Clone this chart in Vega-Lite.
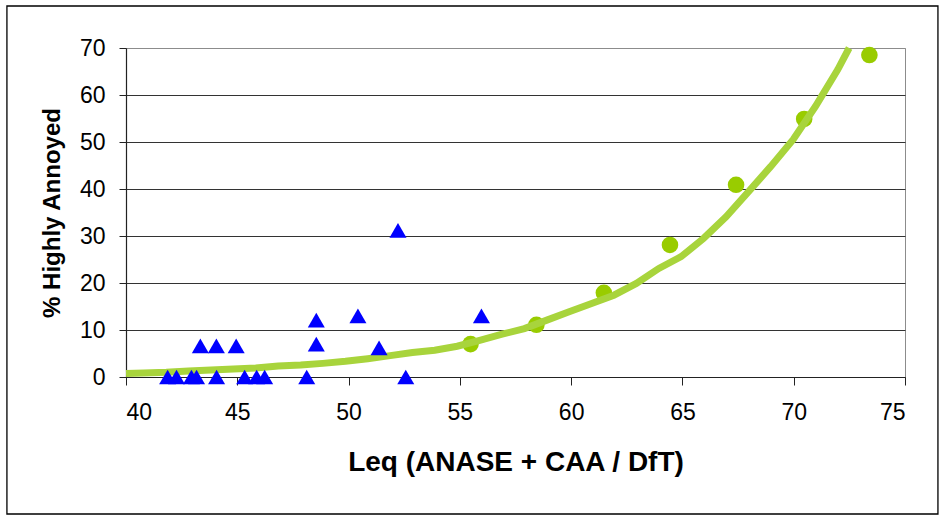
{
  "$schema": "https://vega.github.io/schema/vega-lite/v6.json",
  "autosize": "none",
  "width": 779,
  "height": 329,
  "padding": {"left": 126, "top": 48, "right": 36, "bottom": 139},
  "background": "white",
  "config": {
    "view": {"stroke": "#8c8c8c", "strokeWidth": 1},
    "font": "Liberation Sans",
    "axis": {"labelFont": "Liberation Sans", "titleFont": "Liberation Sans", "labelColor": "#000", "titleColor": "#000", "domainColor": "#222", "tickColor": "#222"}
  },
  "datasets": {
    "anase": [
      {"leq": 41.87, "ha": 0}, {"leq": 42.27, "ha": 0}, {"leq": 42.94, "ha": 0}, {"leq": 43.17, "ha": 0},
      {"leq": 44.07, "ha": 0}, {"leq": 45.33, "ha": 0}, {"leq": 45.87, "ha": 0}, {"leq": 46.23, "ha": 0},
      {"leq": 48.12, "ha": 0}, {"leq": 52.57, "ha": 0},
      {"leq": 43.34, "ha": 6.6}, {"leq": 44.06, "ha": 6.6}, {"leq": 44.95, "ha": 6.6},
      {"leq": 48.55, "ha": 12.1}, {"leq": 48.55, "ha": 7.0}, {"leq": 50.42, "ha": 13.0},
      {"leq": 51.37, "ha": 6.2}, {"leq": 52.22, "ha": 31.2}, {"leq": 55.97, "ha": 13.0}
    ],
    "caa": [
      {"leq": 55.48, "ha": 7.0}, {"leq": 58.44, "ha": 11.1}, {"leq": 61.47, "ha": 17.9},
      {"leq": 64.44, "ha": 28.1}, {"leq": 67.41, "ha": 40.9}, {"leq": 70.47, "ha": 54.9}, {"leq": 73.4, "ha": 68.5}
    ],
    "curve": [
      {"leq": 40.0, "ha": 0.75}, {"leq": 40.8, "ha": 0.85}, {"leq": 41.81, "ha": 1.0}, {"leq": 42.81, "ha": 1.3},
      {"leq": 43.82, "ha": 1.5}, {"leq": 44.83, "ha": 1.7}, {"leq": 45.83, "ha": 1.9}, {"leq": 46.84, "ha": 2.35},
      {"leq": 47.85, "ha": 2.55}, {"leq": 48.84, "ha": 2.9}, {"leq": 49.86, "ha": 3.35}, {"leq": 50.86, "ha": 3.9},
      {"leq": 51.87, "ha": 4.55}, {"leq": 52.87, "ha": 5.2}, {"leq": 53.87, "ha": 5.7}, {"leq": 54.88, "ha": 6.55},
      {"leq": 55.89, "ha": 7.8}, {"leq": 56.9, "ha": 9.1}, {"leq": 57.9, "ha": 10.3}, {"leq": 58.91, "ha": 12.1},
      {"leq": 59.91, "ha": 13.9}, {"leq": 60.92, "ha": 15.65}, {"leq": 61.92, "ha": 17.4}, {"leq": 62.93, "ha": 19.9},
      {"leq": 63.94, "ha": 23.1}, {"leq": 64.94, "ha": 25.6}, {"leq": 65.95, "ha": 29.5}, {"leq": 66.96, "ha": 34.1},
      {"leq": 67.96, "ha": 39.4}, {"leq": 68.97, "ha": 44.8}, {"leq": 69.97, "ha": 50.5}, {"leq": 70.98, "ha": 57.6},
      {"leq": 71.98, "ha": 65.4}, {"leq": 72.49, "ha": 70.0}
    ]
  },
  "layer": [
    {
      "data": {"values": [{"frame": 1}]},
      "mark": {"type": "rect", "filled": false, "color": "#000", "strokeWidth": 1.3},
      "encoding": {
        "x": {
          "datum": 34.65, "type": "quantitative",
          "scale": {"domain": [40, 75], "nice": false, "zero": false},
          "axis": {
            "title": "Leq (ANASE + CAA / DfT)",
            "values": [40, 45, 50, 55, 60, 65, 70, 75],
            "grid": false,
            "labelFontSize": 23, "tickSize": 8, "labelPadding": 16,
            "titleFontSize": 28, "titleFontWeight": "bold", "titlePadding": 24,
            "domainWidth": 1.2
          }
        },
        "x2": {"datum": 76.48},
        "y": {
          "datum": 78.94, "type": "quantitative",
          "scale": {"domain": [0, 70], "nice": false},
          "axis": {
            "title": "% Highly Annoyed",
            "values": [0, 10, 20, 30, 40, 50, 60, 70],
            "grid": true,
            "gridColor": {"condition": {"test": "datum.value === 70", "value": "#8c8c8c"}, "value": "#333333"},
            "gridWidth": 1,
            "labelFontSize": 23, "tickSize": 7, "labelPadding": 14,
            "titleFontSize": 24, "titleFontWeight": "bold", "titlePadding": 15,
            "domainWidth": 1.2
          }
        },
        "y2": {"datum": -29.15}
      }
    },
    {
      "data": {"name": "caa"},
      "mark": {"type": "point", "shape": "circle", "filled": true, "size": 275, "color": "#99cc00", "opacity": 1},
      "encoding": {
        "x": {"field": "leq", "type": "quantitative"},
        "y": {"field": "ha", "type": "quantitative"}
      }
    },
    {
      "data": {"name": "curve"},
      "mark": {"type": "line", "color": "#a8d43c", "strokeWidth": 7, "strokeCap": "butt", "strokeJoin": "miter"},
      "encoding": {
        "x": {"field": "leq", "type": "quantitative"},
        "y": {"field": "ha", "type": "quantitative"}
      }
    },
    {
      "data": {"name": "anase"},
      "mark": {"type": "point", "shape": "triangle-up", "filled": true, "size": 290, "color": "#0000ff", "opacity": 1},
      "encoding": {
        "x": {"field": "leq", "type": "quantitative"},
        "y": {"field": "ha", "type": "quantitative"}
      }
    }
  ]
}
